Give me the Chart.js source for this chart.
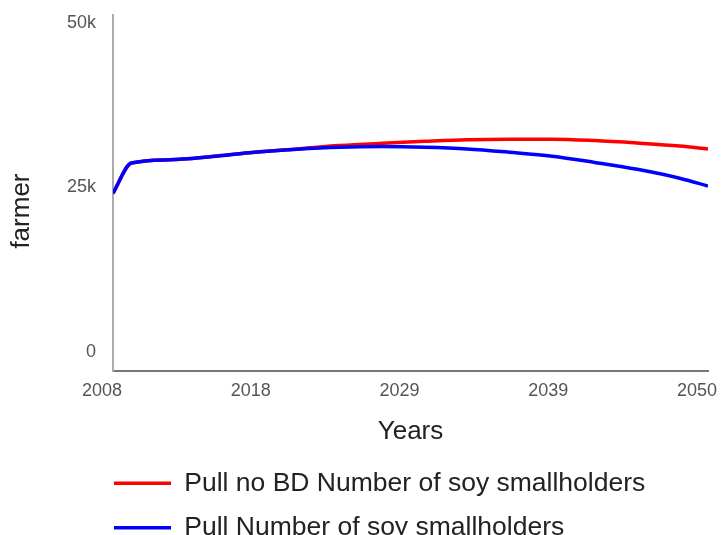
<!DOCTYPE html>
<html>
<head>
<meta charset="utf-8">
<script src="https://cdn.jsdelivr.net/npm/chart.js@4.4.1/dist/chart.umd.min.js"></script>
<style>
  html, body { margin: 0; padding: 0; background: #fff; }
  #wrap { width: 722px; height: 535px; position: relative; }
</style>
</head>
<body>
<div id="wrap"><canvas id="chart"></canvas></div>
<script>
// values
const years = [2008, 2009.3, 2012, 2015, 2018, 2021, 2024, 2027, 2030, 2033, 2036, 2039, 2042, 2045, 2048, 2050]
const pullNoBD = [24100, 28700, 29200, 29700, 30350, 30850, 31350, 31700, 32000, 32250, 32330, 32330, 32120, 31750, 31300, 30850]
const pullBD = [24100, 28700, 29200, 29700, 30350, 30800, 31100, 31200, 31100, 30850, 30350, 29750, 28800, 27750, 26400, 25200]

const xTickValues = [2008, 2018.5, 2029, 2039.5, 2050]
const xTickLabels = ['2008', '2018', '2029', '2039', '2050']
const yTickValues = [0, 25000, 50000]
const yTickLabels = ['0', '25k', '50k']

const seriesNames = ['Pull no BD Number of soy smallholders', 'Pull Number of soy smallholders']

const toPoints = (vals) => years.map((yr, i) => ({x: yr, y: vals[i]}))

// push the legend a bit to the left, it starts under the y axis in the original
const legendShift = {
  id: 'legendShift',
  afterLayout(chart) {
    chart.legend.left -= 17
    chart.legend.right -= 17
  }
}

const fontFamily = '"Liberation Sans", Arial, sans-serif'

const config = {
  type: 'line',
  data: {
    datasets: [{
      label: seriesNames[0],
      data: toPoints(pullNoBD),
      borderColor: '#ff0000',
      backgroundColor: '#ff0000',
      borderWidth: 3.5,
      pointRadius: 0,
      cubicInterpolationMode: 'monotone'
    }, {
      label: seriesNames[1],
      data: toPoints(pullBD),
      borderColor: '#0000ff',
      backgroundColor: '#0000ff',
      borderWidth: 3.5,
      pointRadius: 0,
      cubicInterpolationMode: 'monotone',
      order: -1
    }]
  },
  options: {
    responsive: true,
    maintainAspectRatio: false,
    animation: false,
    layout: { padding: { top: 15, left: 0, right: 0, bottom: 0 } },
    plugins: {
      tooltip: { enabled: false },
      legend: {
        position: 'bottom',
        align: 'start',
        fullSize: false,
        maxHeight: 83,
        labels: {
          usePointStyle: true,
          pointStyle: 'line',
          pointStyleWidth: 57,
          padding: 18,
          color: '#222',
          font: { family: fontFamily, size: 26.5 },
          sort: (a, b) => a.datasetIndex - b.datasetIndex
        }
      }
    },
    scales: {
      x: {
        type: 'linear',
        min: 2008,
        max: 2050,
        grid: { display: false, drawTicks: false },
        border: { display: true, color: '#777', width: 2 },
        afterBuildTicks: (scale) => { scale.ticks = xTickValues.map(v => ({value: v})) },
        afterFit: (scale) => {
          scale.height = 81
          scale.paddingRight = 14
        },
        ticks: {
          padding: 9,
          labelOffset: -11,
          maxRotation: 0,
          autoSkip: false,
          color: '#555',
          font: { family: fontFamily, size: 18 },
          callback: (v, i) => xTickLabels[i]
        },
        title: {
          display: true,
          text: 'Years',
          color: '#222',
          font: { family: fontFamily, size: 26 },
          padding: { top: 0, bottom: 5 }
        }
      },
      y: {
        min: -2900,
        max: 51200,
        grid: { display: false, drawTicks: false },
        border: { display: true, color: '#aaa', width: 2 },
        afterBuildTicks: (scale) => { scale.ticks = yTickValues.map(v => ({value: v})) },
        afterFit: (scale) => {
          scale.width = 113
          scale.paddingTop = 0
          scale.paddingBottom = 0
        },
        ticks: {
          padding: 17,
          color: '#555',
          font: { family: fontFamily, size: 18 },
          callback: (v, i) => yTickLabels[i]
        },
        title: {
          display: true,
          // trailing spaces move the word down a little, as in the original
          text: 'farmer     ',
          color: '#222',
          font: { family: fontFamily, size: 26 },
          padding: { top: 6, bottom: 0 }
        }
      }
    }
  },
  plugins: [legendShift]
}

const myChart = new Chart(document.getElementById('chart'), config)
</script>
</body>
</html>
